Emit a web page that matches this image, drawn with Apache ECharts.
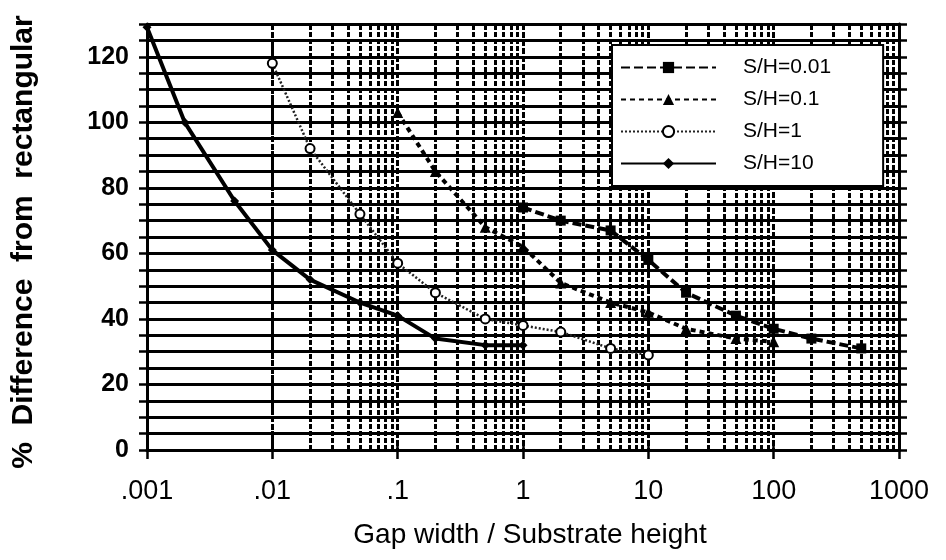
<!DOCTYPE html>
<html>
<head>
<meta charset="utf-8">
<script src="https://cdn.jsdelivr.net/npm/echarts@6/dist/echarts.min.js"></script>
<style>
  html, body { margin: 0; padding: 0; background: #fff; }
  #chart { width: 946px; height: 560px; }
</style>
</head>
<body>
<div id="chart"></div>
<script>
// gap width / substrate height (x) and % difference (y)
const ratioSH001 = [1, 2, 5, 10, 20, 50, 100, 200, 500];
const diffSH001 = [74, 70, 67, 58, 48, 41, 37, 34, 31];

const ratioSH01 = [0.1, 0.2, 0.5, 1, 2, 5, 10, 20, 50, 100];
const diffSH01 = [103, 85, 68, 62, 51, 45, 42, 37, 34, 33];

const ratioSH1 = [0.01, 0.02, 0.05, 0.1, 0.2, 0.5, 1, 2, 5, 10];
const diffSH1 = [118, 92, 72, 57, 48, 40, 38, 36, 31, 29];

const ratioSH10 = [0.001, 0.002, 0.005, 0.01, 0.02, 0.05, 0.1, 0.2, 0.5, 1];
const diffSH10 = [129, 100, 76, 61, 52, 45, 41, 34, 32, 32];

const xTickLabels = { '-3': '.001', '-2': '.01', '-1': '.1', '0': '1', '1': '10', '2': '100', '3': '1000' };

const pairs = (xs, ys) => xs.map((x, i) => [x, ys[i]]);

// minor vertical grid: 2..9 in each decade
const minorX = [];
for (let d = -3; d < 3; d++) {
  for (let m = 2; m <= 9; m++) minorX.push({ xAxis: m * Math.pow(10, d) });
}

const font = '"Liberation Sans", Arial, sans-serif';
const chart = echarts.init(document.getElementById('chart'));

const option = {
  animation: false,
  backgroundColor: '#fff',
  grid: { left: 147, right: 47, top: 24, bottom: 110 },
  legend: {
    z: 20,
    orient: 'vertical',
    left: 612,
    top: 45,
    backgroundColor: '#fff',
    borderColor: '#000',
    borderWidth: 2,
    padding: [12, 52, 12, 8],
    itemWidth: 95,
    itemHeight: 14,
    itemGap: 11,
    textStyle: { fontFamily: font, fontSize: 21, color: '#000', padding: [0, 0, 0, 22] },
    data: ['S/H=0.01', 'S/H=0.1', 'S/H=1', 'S/H=10']
  },
  xAxis: [
    {
      type: 'log',
      logBase: 10,
      min: 0.001,
      max: 1000,
      axisLine: { show: true, lineStyle: { color: '#000', width: 3 } },
      axisTick: { show: true, length: 9, lineStyle: { color: '#000', width: 2.5 } },
      axisLabel: {
        margin: 28,
        fontFamily: font,
        fontSize: 27,
        color: '#000',
        formatter: v => xTickLabels[String(Math.round(Math.log10(v)))] || ''
      },
      splitLine: { show: true, lineStyle: { color: '#000', width: 3, type: [6, 2] } }
    },
    {
      type: 'log',
      logBase: 10,
      min: 0.001,
      max: 1000,
      position: 'top',
      axisLine: { show: true, lineStyle: { color: '#000', width: 3 } },
      axisTick: { show: true, length: 9, lineStyle: { color: '#000', width: 2.5 } },
      axisLabel: { show: false },
      splitLine: { show: false }
    }
  ],
  yAxis: [
    {
      type: 'value',
      min: 0,
      max: 130,
      interval: 5,
      axisLine: { show: true, lineStyle: { color: '#000', width: 3 } },
      axisTick: { show: true, length: 8, lineStyle: { color: '#000', width: 2.5 } },
      axisLabel: {
        margin: 18,
        fontFamily: font,
        fontSize: 25,
        fontWeight: 'bold',
        color: '#000',
        formatter: v => (v % 20 === 0 ? String(v) : '')
      },
      splitLine: { show: true, lineStyle: { color: '#000', width: 3 } }
    },
    {
      type: 'value',
      min: 0,
      max: 130,
      interval: 5,
      position: 'right',
      axisLine: { show: true, lineStyle: { color: '#000', width: 3 } },
      axisTick: { show: true, length: 8, lineStyle: { color: '#000', width: 2.5 } },
      axisLabel: { show: false },
      splitLine: { show: false }
    }
  ],
  graphic: [
    {
      type: 'text',
      x: 24,
      y: 242,
      rotation: Math.PI / 2,
      style: {
        text: '%  Difference  from  rectangular',
        fontFamily: font,
        fontSize: 30,
        fontWeight: 'bold',
        fill: '#000',
        align: 'center',
        verticalAlign: 'middle'
      }
    },
    {
      type: 'text',
      x: 530,
      y: 535,
      style: {
        text: 'Gap width / Substrate height',
        fontFamily: font,
        fontSize: 28,
        fill: '#000',
        align: 'center',
        verticalAlign: 'middle'
      }
    }
  ],
  series: [
    {
      name: 'minor grid',
      type: 'line',
      data: [],
      silent: true,
      markLine: {
        z: 1,
        silent: true,
        symbol: 'none',
        label: { show: false },
        lineStyle: { color: '#000', width: 3, type: [5, 2] },
        data: minorX
      }
    },
    {
      name: 'S/H=0.01',
      type: 'line',
      data: pairs(ratioSH001, diffSH001),
      symbol: 'rect',
      symbolSize: 10,
      lineStyle: { color: '#000', width: 4, type: [9, 4] },
      itemStyle: { color: '#000' }
    },
    {
      name: 'S/H=0.1',
      type: 'line',
      data: pairs(ratioSH01, diffSH01),
      symbol: 'triangle',
      symbolSize: 11,
      lineStyle: { color: '#000', width: 4, type: [5, 4] },
      itemStyle: { color: '#000' }
    },
    {
      name: 'S/H=1',
      type: 'line',
      data: pairs(ratioSH1, diffSH1),
      symbol: 'circle',
      symbolSize: 9,
      lineStyle: { color: '#222', width: 2.5, type: [2, 2] },
      itemStyle: { color: '#fff', borderColor: '#000', borderWidth: 2 }
    },
    {
      name: 'S/H=10',
      type: 'line',
      data: pairs(ratioSH10, diffSH10),
      symbol: 'diamond',
      symbolSize: 9,
      lineStyle: { color: '#000', width: 4 },
      itemStyle: { color: '#000' }
    }
  ]
};

chart.setOption(option);
</script>
</body>
</html>
